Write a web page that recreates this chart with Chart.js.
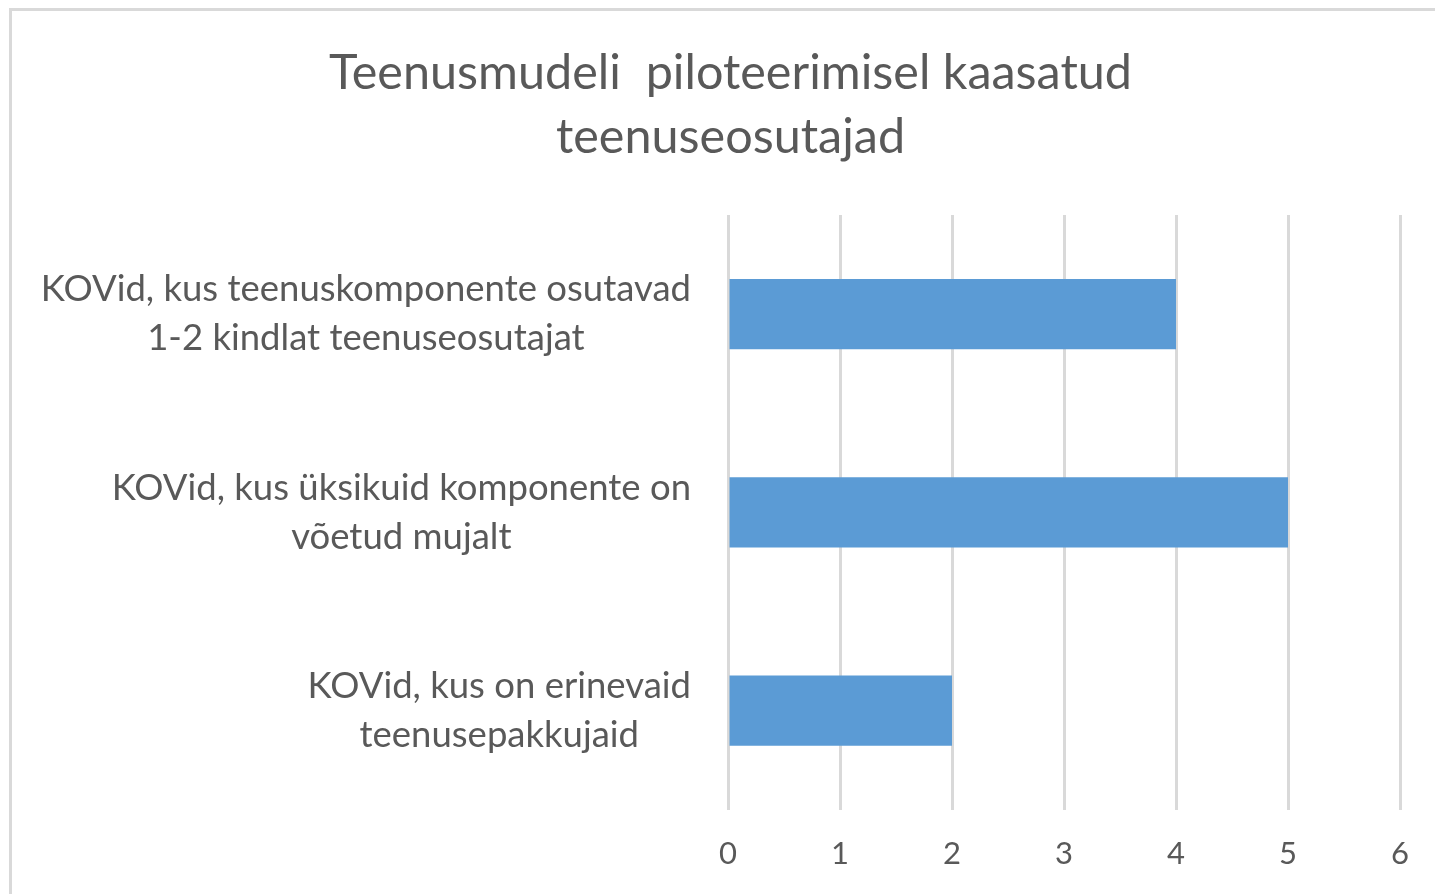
<!DOCTYPE html>
<html>
<head>
<meta charset="utf-8">
<script src="https://cdn.jsdelivr.net/npm/chart.js@4"></script>
<style>
  html, body { margin: 0; padding: 0; background: #fff; overflow: hidden; }
  #wrap { position: relative; width: 1435px; height: 894px; overflow: hidden; }
  #raam { position: absolute; left: 9px; top: 8px; width: 1500px; height: 1000px;
          border-left: 3px solid #d9d9d9; border-top: 3px solid #d9d9d9; pointer-events: none; }
</style>
</head>
<body>
<div id="wrap">
  <canvas id="graafik" width="1435" height="899"></canvas>
  <div id="raam"></div>
</div>
<script>
// andmed
const kategooriad = [
  ['KOVid, kus teenuskomponente osutavad', '1-2 kindlat teenuseosutajat'],
  ['KOVid, kus üksikuid komponente on', 'võetud mujalt'],
  ['KOVid, kus on erinevaid', 'teenusepakkujaid']
];
const vaartused = [4, 5, 2];
const pealkiri = ['Teenusmudeli  piloteerimisel kaasatud', 'teenuseosutajad'];
const teljeMin = 0;
const teljeMax = 6;

const tekstiVarv = '#595959';
const font = 'Lato, "Open Sans", sans-serif';

// y-telje sildid: iga plokk paremale joondatud, read ploki sees keskel
const siltidePlugin = {
  id: 'sildid',
  afterDraw(chart) {
    const ctx = chart.ctx;
    const y = chart.scales.y;
    const parem = chart.chartArea.left - 37;
    ctx.save();
    ctx.font = '36.5px ' + font;
    ctx.fillStyle = tekstiVarv;
    ctx.textAlign = 'center';
    ctx.textBaseline = 'middle';
    kategooriad.forEach((read, i) => {
      const yk = y.getPixelForTick(i);
      const laius = Math.max(...read.map(r => ctx.measureText(r).width));
      const xk = parem - laius / 2;
      const rida = 49;
      read.forEach((r, j) => {
        ctx.fillText(r, xk, yk + (j - (read.length - 1) / 2) * rida);
      });
    });
    ctx.restore();
  }
};

new Chart(document.getElementById('graafik').getContext('2d'), {
  type: 'bar',
  data: {
    labels: kategooriad,
    datasets: [{
      data: vaartused,
      backgroundColor: '#5b9bd5',
      borderWidth: 0,
      barPercentage: 0.355,
      categoryPercentage: 1
    }]
  },
  options: {
    indexAxis: 'y',
    responsive: false,
    animation: false,
    layout: { padding: { left: 60, right: 34, top: 0, bottom: 0 } },
    plugins: {
      legend: { display: false },
      tooltip: { enabled: false },
      title: {
        display: true,
        text: pealkiri,
        color: tekstiVarv,
        font: { family: font, size: 48.5, weight: 'normal', lineHeight: 1.32 },
        padding: { top: 41, bottom: 46 }
      }
    },
    scales: {
      x: {
        min: teljeMin,
        max: teljeMax,
        grid: { color: '#d9d9d9', lineWidth: 3, drawTicks: false },
        border: { display: false },
        ticks: { stepSize: 1, color: tekstiVarv, padding: 26, font: { family: font, size: 31 } }
      },
      y: {
        grid: { display: false },
        border: { display: false },
        ticks: { display: false },
        afterFit(scale) { scale.width = 668; }
      }
    }
  },
  plugins: [siltidePlugin]
});
</script>
</body>
</html>
